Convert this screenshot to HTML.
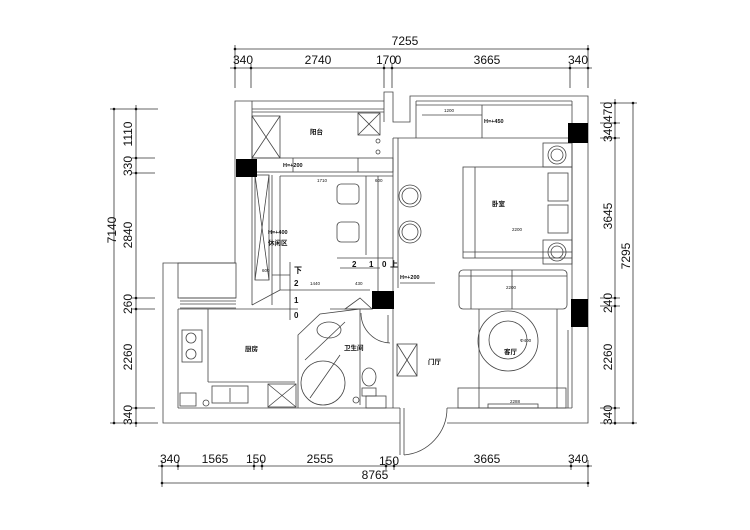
<!DOCTYPE html>
<html><head><meta charset="utf-8"><style>
html,body{margin:0;padding:0;background:#fff;}
svg{display:block;}
text{font-family:"Liberation Sans","Noto Sans CJK SC",sans-serif;fill:#111;}
</style></head><body>
<svg width="750" height="530" viewBox="0 0 750 530" xmlns="http://www.w3.org/2000/svg">
<rect width="750" height="530" fill="#fff"/>
<g stroke="#333" stroke-width="0.8" fill="none">
<line x1="235" y1="49" x2="588" y2="49"/>
<line x1="230" y1="68" x2="592" y2="68"/>
<line x1="235" y1="45" x2="235" y2="88"/><line x1="251" y1="64" x2="251" y2="88"/>
<line x1="384" y1="64" x2="384" y2="88"/><line x1="392" y1="64" x2="392" y2="88"/>
<line x1="570" y1="64" x2="570" y2="88"/><line x1="588" y1="45" x2="588" y2="88"/>
<line x1="114" y1="109" x2="114" y2="423"/>
<line x1="136" y1="105" x2="136" y2="427"/>
<line x1="110" y1="109" x2="158" y2="109"/><line x1="132" y1="158" x2="155" y2="158"/>
<line x1="132" y1="173" x2="155" y2="173"/><line x1="132" y1="298" x2="155" y2="298"/>
<line x1="132" y1="309" x2="155" y2="309"/><line x1="132" y1="408" x2="155" y2="408"/>
<line x1="110" y1="423" x2="158" y2="423"/>
<line x1="615" y1="99" x2="615" y2="425"/>
<line x1="633" y1="103" x2="633" y2="423"/>
<line x1="600" y1="103" x2="637" y2="103"/><line x1="600" y1="123" x2="620" y2="123"/>
<line x1="600" y1="138" x2="620" y2="138"/><line x1="600" y1="298" x2="620" y2="298"/>
<line x1="600" y1="306" x2="620" y2="306"/><line x1="600" y1="408" x2="620" y2="408"/>
<line x1="600" y1="423" x2="637" y2="423"/>
<line x1="158" y1="466" x2="592" y2="466"/>
<line x1="162" y1="483" x2="588" y2="483"/>
<line x1="162" y1="460" x2="162" y2="487"/><line x1="178" y1="460" x2="178" y2="470"/>
<line x1="254" y1="460" x2="254" y2="470"/><line x1="262" y1="460" x2="262" y2="470"/>
<line x1="386" y1="460" x2="386" y2="470"/><line x1="394" y1="460" x2="394" y2="470"/>
<line x1="571" y1="460" x2="571" y2="470"/><line x1="588" y1="460" x2="588" y2="487"/>
</g>
<g fill="#111">
<circle cx="235" cy="49" r="1.3"/><circle cx="588" cy="49" r="1.3"/>
<circle cx="235" cy="68" r="1.3"/><circle cx="251" cy="68" r="1.3"/><circle cx="384" cy="68" r="1.3"/><circle cx="392" cy="68" r="1.3"/><circle cx="570" cy="68" r="1.3"/><circle cx="588" cy="68" r="1.3"/>
<circle cx="114" cy="109" r="1.3"/><circle cx="114" cy="423" r="1.3"/>
<circle cx="136" cy="109" r="1.3"/><circle cx="136" cy="158" r="1.3"/><circle cx="136" cy="173" r="1.3"/><circle cx="136" cy="298" r="1.3"/><circle cx="136" cy="309" r="1.3"/><circle cx="136" cy="408" r="1.3"/><circle cx="136" cy="423" r="1.3"/>
<circle cx="615" cy="103" r="1.3"/><circle cx="615" cy="123" r="1.3"/><circle cx="615" cy="138" r="1.3"/><circle cx="615" cy="298" r="1.3"/><circle cx="615" cy="306" r="1.3"/><circle cx="615" cy="408" r="1.3"/><circle cx="615" cy="423" r="1.3"/>
<circle cx="633" cy="103" r="1.3"/><circle cx="633" cy="423" r="1.3"/>
<circle cx="162" cy="466" r="1.3"/><circle cx="178" cy="466" r="1.3"/><circle cx="254" cy="466" r="1.3"/><circle cx="262" cy="466" r="1.3"/><circle cx="386" cy="466" r="1.3"/><circle cx="394" cy="466" r="1.3"/><circle cx="571" cy="466" r="1.3"/><circle cx="588" cy="466" r="1.3"/>
<circle cx="162" cy="483" r="1.3"/><circle cx="588" cy="483" r="1.3"/>
</g>
<g font-size="12">
<text x="405" y="45" text-anchor="middle">7255</text>
<text x="243" y="64" text-anchor="middle">340</text><text x="318" y="64" text-anchor="middle">2740</text>
<text x="386" y="64" text-anchor="middle">170</text><text x="398" y="64" text-anchor="middle">0</text>
<text x="487" y="64" text-anchor="middle">3665</text><text x="578" y="64" text-anchor="middle">340</text>
<text x="170" y="463" text-anchor="middle">340</text><text x="215" y="463" text-anchor="middle">1565</text>
<text x="256" y="463" text-anchor="middle">150</text><text x="320" y="463" text-anchor="middle">2555</text>
<text x="389" y="465" text-anchor="middle">150</text><text x="487" y="463" text-anchor="middle">3665</text>
<text x="578" y="463" text-anchor="middle">340</text><text x="375" y="479" text-anchor="middle">8765</text>
<text transform="translate(116,230) rotate(-90)" text-anchor="middle">7140</text>
<text transform="translate(132,134) rotate(-90)" text-anchor="middle">1110</text>
<text transform="translate(132,166) rotate(-90)" text-anchor="middle">330</text>
<text transform="translate(132,235) rotate(-90)" text-anchor="middle">2840</text>
<text transform="translate(132,304) rotate(-90)" text-anchor="middle">260</text>
<text transform="translate(132,357) rotate(-90)" text-anchor="middle">2260</text>
<text transform="translate(132,415) rotate(-90)" text-anchor="middle">340</text>
<text transform="translate(612,122) rotate(-90)" text-anchor="middle">340470</text>
<text transform="translate(612,216) rotate(-90)" text-anchor="middle">3645</text>
<text transform="translate(612,303) rotate(-90)" text-anchor="middle">240</text>
<text transform="translate(612,357) rotate(-90)" text-anchor="middle">2260</text>
<text transform="translate(612,415) rotate(-90)" text-anchor="middle">340</text>
<text transform="translate(630,256) rotate(-90)" text-anchor="middle">7295</text>
</g>
<g stroke="#444" stroke-width="0.8" fill="none">
<polyline points="384,101 235,101 235,263 163,263 163,423 400,423"/>
<polyline points="447,423 588,423 588,96 410,96 410,122 393,122 393,92 384,92 384,101"/>
<line x1="252" y1="109" x2="384" y2="109"/><line x1="252" y1="112" x2="384" y2="112"/>
<line x1="252" y1="101" x2="252" y2="305"/>
<line x1="384" y1="101" x2="384" y2="122"/>
<line x1="393" y1="138" x2="393" y2="408"/><line x1="398" y1="138" x2="398" y2="288"/>
<line x1="393" y1="138" x2="572" y2="138"/>
<line x1="416" y1="101" x2="572" y2="101"/><line x1="416" y1="105" x2="572" y2="105"/><line x1="416" y1="101" x2="416" y2="138"/>
<line x1="482" y1="105" x2="482" y2="138"/><line x1="422" y1="115" x2="482" y2="115"/>
<line x1="572" y1="101" x2="572" y2="408"/>
<line x1="178" y1="309" x2="178" y2="408"/><line x1="178" y1="408" x2="400" y2="408"/>
<line x1="178" y1="309" x2="298" y2="309"/>
<line x1="447" y1="408" x2="572" y2="408"/>
<line x1="400" y1="408" x2="400" y2="455"/><line x1="404" y1="408" x2="404" y2="455"/>
<path d="M404,455 A47,47 0 0 0 447,408"/>
<rect x="178" y="263" width="58" height="35"/>
<line x1="180" y1="298" x2="236" y2="298"/><line x1="180" y1="301" x2="236" y2="301"/><line x1="180" y1="304" x2="236" y2="304"/><line x1="180" y1="308" x2="236" y2="308"/>
<rect x="252" y="116" width="28" height="42"/><line x1="252" y1="116" x2="280" y2="158"/><line x1="280" y1="116" x2="252" y2="158"/>
<rect x="358" y="113" width="22" height="22"/><line x1="358" y1="113" x2="380" y2="135"/><line x1="380" y1="113" x2="358" y2="135"/>
<circle cx="378" cy="141" r="2"/><circle cx="378" cy="152" r="2"/>
<rect x="252" y="158" width="141" height="14"/><line x1="293" y1="158" x2="293" y2="172"/><line x1="358" y1="158" x2="358" y2="172"/>
<rect x="255" y="175" width="14" height="105"/><line x1="255" y1="175" x2="269" y2="280"/><line x1="269" y1="175" x2="255" y2="280"/>
<line x1="272" y1="175" x2="272" y2="305"/>
<line x1="280" y1="176" x2="393" y2="176"/><line x1="280" y1="176" x2="280" y2="290"/>
<rect x="337" y="184" width="22" height="20" rx="4"/><rect x="337" y="222" width="22" height="20" rx="4"/>
<line x1="366" y1="176" x2="366" y2="255"/><line x1="378" y1="176" x2="378" y2="300"/>
<line x1="337" y1="258" x2="393" y2="258"/><line x1="340" y1="268" x2="380" y2="268"/>
<line x1="272" y1="275" x2="290" y2="275"/>
<line x1="280" y1="290" x2="370" y2="290"/><line x1="290" y1="262" x2="290" y2="320"/>
<line x1="252" y1="305" x2="280" y2="290"/><line x1="330" y1="309" x2="372" y2="309"/>
<polygon points="345,309 360,298 372,309"/>
<line x1="400" y1="283" x2="435" y2="283"/>
<circle cx="410" cy="196" r="11"/><circle cx="410" cy="196" r="8"/>
<circle cx="410" cy="232" r="11"/><circle cx="410" cy="232" r="8"/>
<rect x="463" y="167" width="109" height="91"/><line x1="475" y1="167" x2="475" y2="258"/><line x1="463" y1="252" x2="572" y2="252"/>
<rect x="548" y="173" width="20" height="28"/><rect x="548" y="205" width="20" height="28"/>
<rect x="543" y="143" width="29" height="24"/><circle cx="557" cy="155" r="9"/><circle cx="557" cy="155" r="6"/>
<rect x="543" y="240" width="29" height="24"/><circle cx="557" cy="252" r="9"/><circle cx="557" cy="252" r="6"/>
<rect x="459" y="270" width="108" height="39" rx="4"/><line x1="471" y1="270" x2="471" y2="309"/><line x1="512" y1="270" x2="512" y2="309"/><line x1="459" y1="276" x2="567" y2="276"/>
<line x1="479" y1="309" x2="479" y2="408"/><line x1="557" y1="309" x2="557" y2="408"/>
<circle cx="508" cy="341" r="30"/><circle cx="508" cy="340" r="19"/>
<rect x="458" y="388" width="108" height="20"/><rect x="488" y="404" width="50" height="4"/>
<line x1="568" y1="330" x2="568" y2="408"/>
<rect x="397" y="344" width="20" height="32"/><line x1="397" y1="344" x2="417" y2="376"/><line x1="417" y1="344" x2="397" y2="376"/>
<line x1="208" y1="309" x2="208" y2="382"/><line x1="208" y1="382" x2="295" y2="382"/>
<rect x="182" y="330" width="20" height="32"/><circle cx="191" cy="338" r="5"/><circle cx="191" cy="354" r="5"/>
<rect x="212" y="386" width="36" height="17"/><line x1="230" y1="388" x2="230" y2="402"/>
<rect x="180" y="393" width="16" height="13"/><circle cx="206" cy="403" r="3"/>
<rect x="268" y="384" width="28" height="23"/><line x1="268" y1="384" x2="296" y2="407"/><line x1="296" y1="384" x2="268" y2="407"/>
<polyline points="298,408 298,335 320,314 360,309 360,405"/>
<line x1="305" y1="360" x2="345" y2="322"/>
<ellipse cx="329" cy="330" rx="12" ry="8"/>
<circle cx="323" cy="383" r="22"/><line x1="310" y1="398" x2="340" y2="355"/>
<path d="M361,313 A30,30 0 0 0 390,343"/><line x1="388" y1="315" x2="388" y2="343"/>
<ellipse cx="369" cy="377" rx="7" ry="9"/><rect x="362" y="388" width="14" height="8"/>
<rect x="366" y="396" width="20" height="12"/><circle cx="356" cy="400" r="3"/>
</g>
<g fill="#000">
<rect x="236" y="159" width="21" height="18"/>
<rect x="568" y="123" width="20" height="20"/>
<rect x="372" y="291" width="22" height="18"/>
<rect x="571" y="299" width="17" height="28"/>
</g>
<g font-size="6.5" font-weight="bold">
<text x="310" y="134">阳台</text>
<text x="283" y="167" font-size="5.5">H=+200</text>
<text x="268" y="234" font-size="5.5">H=+400</text>
<text x="268" y="245">休闲区</text>
<text x="492" y="206">卧室</text>
<text x="484" y="123" font-size="5.5">H=+450</text>
<text x="245" y="351">厨房</text>
<text x="344" y="350">卫生间</text>
<text x="428" y="364">门厅</text>
<text x="504" y="354">客厅</text>
<text x="400" y="279" font-size="5.5">H=+200</text>
</g>
<g font-size="8" font-weight="bold">
<text x="352" y="267">2</text><text x="369" y="267">1</text><text x="382" y="267">0</text><text x="390" y="267">上</text>
<text x="294" y="273">下</text><text x="294" y="286">2</text><text x="294" y="303">1</text><text x="294" y="318">0</text>
</g>
<g font-size="4.5">
<text x="317" y="182">1710</text><text x="375" y="182">600</text><text x="310" y="285">1440</text><text x="355" y="285">430</text>
<text x="444" y="112">1200</text><text x="512" y="231">2200</text><text x="506" y="289">2200</text>
<text x="510" y="403">2288</text><text x="520" y="342">Φ400</text><text x="262" y="272">600</text>
</g>
</svg>
</body></html>
